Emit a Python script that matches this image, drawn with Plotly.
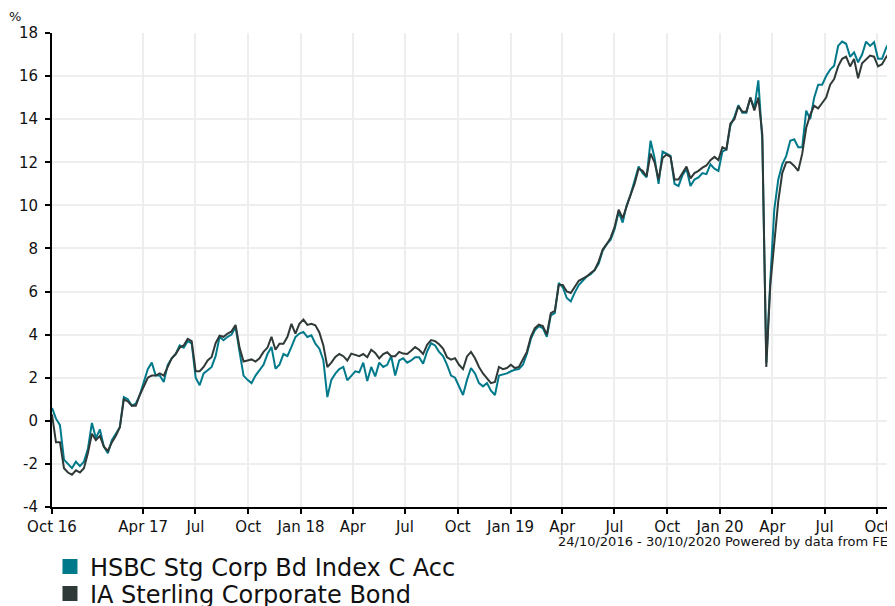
import pandas as pd
import plotly.graph_objects as go

# ---- data (weekly-ish samples) ----
start_date = "2016-10-24"
end_date = "2020-10-30"

hsbc = [0.6, 0.1, -0.2, -1.8, -2.0, -2.2, -1.9, -2.1, -1.9, -1.3,
        -0.1, -0.8, -0.4, -1.2, -1.5, -0.9, -0.6, -0.3, 1.1, 1.0,
        0.7, 0.8, 1.2, 1.8, 2.4, 2.7, 2.1, 2.1, 1.8, 2.6,
        2.9, 3.1, 3.5, 3.4, 3.7, 3.6, 2.0, 1.65, 2.2, 2.35,
        2.5, 3.0, 3.9, 3.74, 3.9, 4.0, 4.36, 3.2, 2.1, 1.9,
        1.75, 2.1, 2.34, 2.6, 3.1, 3.43, 2.42, 2.6, 3.1, 3.0,
        3.43, 3.89, 4.05, 4.12, 3.89, 3.97, 3.58, 3.35, 2.81, 1.1,
        1.9, 2.19, 2.4, 2.5, 1.88, 2.1, 2.3, 2.25, 2.7, 1.85,
        2.5, 2.06, 2.7, 2.5, 2.6, 3.0, 2.1, 2.8, 2.9, 2.7,
        2.8, 2.95, 2.95, 2.65, 3.22, 3.6, 3.5, 3.2, 3.0, 2.6,
        2.1, 2.0, 1.6, 1.2, 1.9, 2.45, 2.2, 1.75, 1.6, 1.75,
        1.4, 1.2, 2.1, 2.15, 2.2, 2.3, 2.37, 2.4, 2.6, 3.1,
        3.8, 4.2, 4.4, 4.3, 3.9, 4.9, 5.0, 6.4, 6.2, 5.7,
        5.54, 5.95, 6.3, 6.5, 6.7, 6.8, 7.0, 7.3, 7.9, 8.2,
        8.4, 8.9, 9.7, 9.2, 10.0, 10.5, 11.1, 11.8, 11.5, 11.3,
        13.0, 12.2, 11.0, 12.5, 12.4, 12.3, 11.0, 10.9, 11.4, 11.7,
        10.9, 11.2, 11.3, 11.5, 11.45, 11.9, 11.7, 11.6, 12.5, 12.6,
        13.7, 14.1, 14.65, 14.3, 14.3, 15.0, 14.5, 15.8, 13.0, 2.7,
        6.5, 9.8, 11.2, 11.9, 12.3, 13.0, 13.07, 12.7, 12.7, 14.4,
        14.0, 15.0, 15.6, 15.6, 16.0, 16.3, 16.48, 17.4, 17.6, 17.5,
        16.9, 17.1, 16.64, 17.0, 17.6, 17.4, 17.57, 16.8, 16.8, 17.3,
        17.6, 17.8]

ia_sector = [0.3, -1.0, -1.0, -2.2, -2.4, -2.5, -2.3, -2.4, -2.2, -1.5,
             -0.6, -0.9, -0.7, -1.2, -1.4, -1.0, -0.7, -0.3, 1.0, 0.9,
             0.7, 0.7, 1.2, 1.6, 2.0, 2.1, 2.1, 2.2, 2.1, 2.5,
             2.9, 3.1, 3.4, 3.5, 3.8, 3.7, 2.3, 2.3, 2.5, 2.8,
             2.96, 3.6, 3.95, 3.9, 4.05, 4.15, 4.45, 3.4, 2.75, 2.8,
             2.85, 2.75, 2.9, 3.2, 3.4, 3.9, 3.3, 3.58, 3.58, 3.9,
             4.5, 4.05, 4.5, 4.7, 4.45, 4.5, 4.43, 4.1, 3.5, 2.5,
             2.7, 2.96, 3.1, 3.0, 2.8, 3.12, 3.05, 3.0, 3.1, 2.95,
             3.3, 3.15, 2.9, 3.1, 3.18, 3.0, 3.0, 3.2, 3.12, 3.1,
             3.25, 3.42, 3.3, 3.1, 3.53, 3.75, 3.7, 3.55, 3.35, 2.95,
             2.84, 2.91, 2.6, 2.4, 2.99, 3.2, 2.9, 2.5, 2.2, 1.95,
             1.75, 1.8, 2.5, 2.4, 2.45, 2.6, 2.45, 2.5, 2.84, 3.2,
             3.9, 4.3, 4.46, 4.4, 4.0, 5.0, 5.1, 6.3, 6.3, 6.0,
             5.93, 6.2, 6.5, 6.6, 6.7, 6.86, 7.0, 7.4, 7.95, 8.2,
             8.5, 9.0, 9.8, 9.4, 10.0, 10.5, 11.0, 11.7, 11.6, 11.35,
             12.4, 12.0, 11.2, 12.2, 12.36, 12.25, 11.2, 11.2, 11.5, 11.8,
             11.25, 11.5, 11.6, 11.75, 11.85, 12.1, 12.25, 12.1, 12.7, 12.6,
             13.8, 14.0, 14.6, 14.35, 14.35, 15.0, 14.4, 15.0, 13.3, 2.5,
             6.3, 8.4, 10.2, 11.5, 12.0, 12.0, 11.83, 11.6, 12.4, 13.6,
             14.2, 14.62, 14.5, 14.75, 15.0, 15.6, 15.86, 16.45, 16.8, 16.9,
             16.45, 16.79, 15.9, 16.6, 16.8, 16.95, 16.9, 16.45, 16.55, 16.87,
             17.1, 17.2]

series_names = ["HSBC Stg Corp Bd Index C Acc", "IA Sterling Corporate Bond"]
series_colors = ["#007a8b", "#2f3a38"]

x_tick_dates = ["2016-10-24", "2017-04-01", "2017-07-01", "2017-10-01", "2018-01-01",
                "2018-04-01", "2018-07-01", "2018-10-01", "2019-01-01", "2019-04-01",
                "2019-07-01", "2019-10-01", "2020-01-01", "2020-04-01", "2020-07-01",
                "2020-10-01", "2020-10-30"]
x_tick_labels = ["Oct 16", "Apr 17", "Jul", "Oct", "Jan 18", "Apr", "Jul", "Oct",
                 "Jan 19", "Apr", "Jul", "Oct", "Jan 20", "Apr", "Jul", "Oct", ""]
y_tick_vals = [-4, -2, 0, 2, 4, 6, 8, 10, 12, 14, 16, 18]
y_tick_labels = ["-4", "-2", "0", "2", "4", "6", "8", "10", "12", "14", "16", "18"]

source_text = "24/10/2016 - 30/10/2020 Powered by data from FE"

assert len(hsbc) == len(ia_sector)
dates = pd.date_range(start_date, end_date, periods=len(hsbc))

FONT = "Verdana, DejaVu Sans, sans-serif"

fig = go.Figure()
for name, vals, col in zip(series_names, [hsbc, ia_sector], series_colors):
    fig.add_trace(go.Scatter(x=dates, y=vals, mode="lines", name=name,
                             line=dict(color=col, width=2), showlegend=False,
                             hoverinfo="skip"))

# legend entries (square swatches), each in its own legend box
for i, (name, col) in enumerate(zip(series_names, series_colors)):
    fig.add_trace(go.Scatter(x=[None], y=[None], mode="markers", name=name,
                             marker=dict(symbol="square", size=15, color=col),
                             showlegend=True,
                             legend="legend" if i == 0 else "legend2"))

legend_common = dict(font=dict(family=FONT, size=24, color="#111111"),
                     bgcolor="rgba(0,0,0,0)", borderwidth=0,
                     xanchor="left", yanchor="top", orientation="v",
                     itemclick=False, itemdoubleclick=False)

# the page body adds an 8px margin, so the figure is sized to fit the window
fig.update_layout(
    width=887, height=598,
    margin=dict(l=44, r=1, t=25, b=99, autoexpand=False),
    paper_bgcolor="white", plot_bgcolor="white",
    font=dict(family=FONT, size=15, color="#111111"),
    legend=dict(x=-0.0024, y=-0.079, **legend_common),
    legend2=dict(x=-0.0024, y=-0.136, **legend_common),
    xaxis=dict(
        type="date", range=[start_date, end_date],
        tickmode="array", tickvals=x_tick_dates, ticktext=x_tick_labels,
        showgrid=True, gridcolor="#eeeeee", gridwidth=2,
        showline=True, linecolor="#000000", linewidth=2,
        ticks="outside", ticklen=5, tickwidth=1.5, tickcolor="#000000",
        tickfont=dict(family=FONT, size=15, color="#111111"),
        zeroline=False, fixedrange=True,
    ),
    yaxis=dict(
        range=[-4, 18], tickmode="array", tickvals=y_tick_vals, ticktext=y_tick_labels,
        showgrid=True, gridcolor="#eeeeee", gridwidth=2,
        showline=True, linecolor="#000000", linewidth=2,
        ticks="outside", ticklen=5, tickwidth=1.5, tickcolor="#000000",
        ticklabelstandoff=4,
        tickfont=dict(family=FONT, size=15, color="#111111"),
        zeroline=False, fixedrange=True,
    ),
    annotations=[
        dict(text="%", xref="paper", yref="paper", x=-0.044, y=1.034,
             xanchor="center", yanchor="middle", showarrow=False,
             font=dict(family=FONT, size=13, color="#111111")),
        dict(text=source_text, xref="paper", yref="paper", x=0.9952, y=-0.073,
             xanchor="right", yanchor="middle", showarrow=False,
             font=dict(family=FONT, size=13, color="#111111")),
    ],
)

fig.write_html("out.html")
